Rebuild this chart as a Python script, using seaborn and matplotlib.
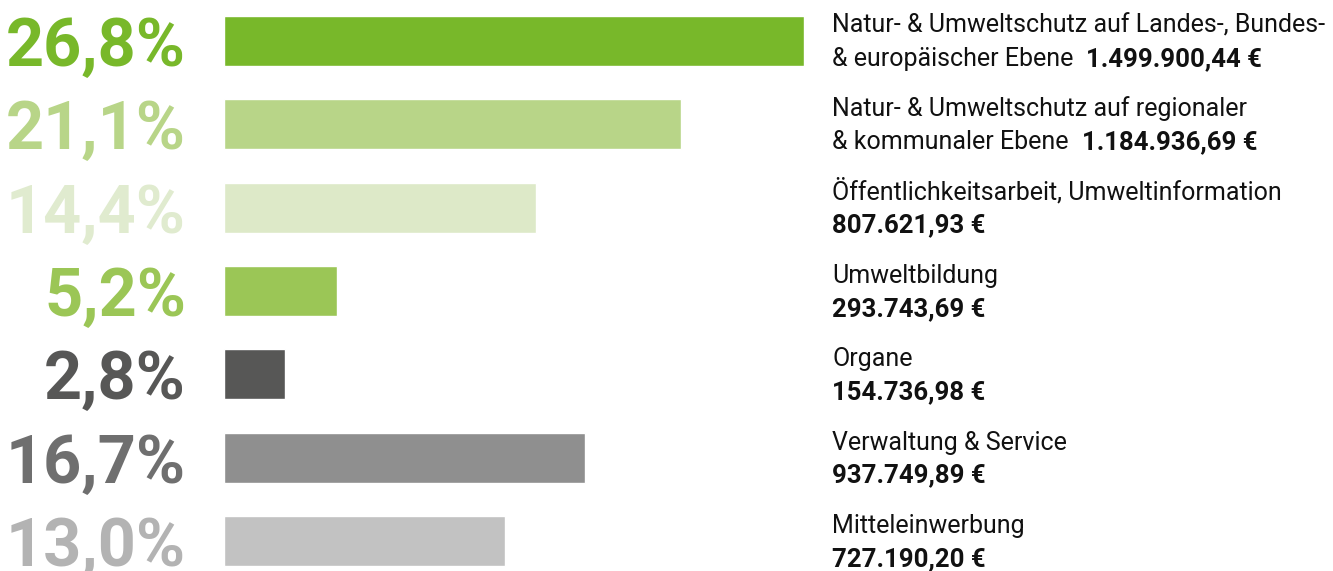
import matplotlib
matplotlib.use("Agg")
import matplotlib.pyplot as plt
import seaborn as sns
import pandas as pd
from matplotlib.transforms import blended_transform_factory

# data
categories = ["Landes/Bund/EU", "Regional/Kommunal", "Öffentlichkeitsarbeit",
              "Umweltbildung", "Organe", "Verwaltung", "Mitteleinwerbung"]
percent = [26.8, 21.1, 14.4, 5.2, 2.8, 16.7, 13.0]
pct_labels = ["26,8%", "21,1%", "14,4%", "5,2%", "2,8%", "16,7%", "13,0%"]
line1 = ["Natur- & Umweltschutz auf Landes-, Bundes-",
         "Natur- & Umweltschutz auf regionaler",
         "Öffentlichkeitsarbeit, Umweltinformation",
         "Umweltbildung", "Organe", "Verwaltung & Service", "Mitteleinwerbung"]
line2 = ["& europäischer Ebene", "& kommunaler Ebene", "", "", "", "", ""]
amounts = ["1.499.900,44 €", "1.184.936,69 €", "807.621,93 €", "293.743,69 €",
           "154.736,98 €", "937.749,89 €", "727.190,20 €"]
bar_colors = ["#78b82a", "#b8d588", "#dde9c8", "#9bc656", "#575756", "#8f8f8f", "#c2c2c2"]
text_colors = ["#78b82a", "#b8d588", "#e0ebcf", "#9bc656", "#575756", "#6f6f6f", "#b3b3b3"]

df = pd.DataFrame({"cat": categories, "pct": percent})

sns.set_style("white")
fig = plt.figure(figsize=(13.33, 5.71), dpi=100)
ax = fig.add_axes([224 / 1333, 0, 580 / 1333, 1])

sns.barplot(data=df, x="pct", y="cat", hue="cat", palette=bar_colors, legend=False,
            orient="h", width=0.6, saturation=1, ax=ax)
ax.set_xlim(0, 26.8)
ax.set_ylim(6.36, -0.492)
ax.axis("off")

# x in figure pixels, y in category units
tr = blended_transform_factory(fig.transFigure, ax.transData)
bold = dict(family="Roboto", weight="bold", color="#111111", fontsize=18.5)

for i in range(len(categories)):
    ax.text(186 / 1333, i + 0.3, pct_labels[i], transform=tr, ha="right", va="baseline",
            fontsize=48, family="Roboto", weight="bold", color=text_colors[i])
    ax.text(832 / 1333, i - 0.096, line1[i], transform=tr, ha="left", va="baseline",
            fontsize=18, family="Roboto", color="#111111")
    if line2[i]:
        t = ax.text(832 / 1333, i + 0.3, line2[i], transform=tr, ha="left", va="baseline",
                    fontsize=18, family="Roboto", color="#111111")
        ax.annotate(amounts[i], xy=(1, i + 0.3), xycoords=(t, ax.transData),
                    xytext=(13, 0), textcoords="offset pixels", ha="left", va="baseline",
                    **bold)
    else:
        ax.text(832 / 1333, i + 0.3, amounts[i], transform=tr, ha="left", va="baseline",
                **bold)

fig.savefig("out.png", dpi=100)
